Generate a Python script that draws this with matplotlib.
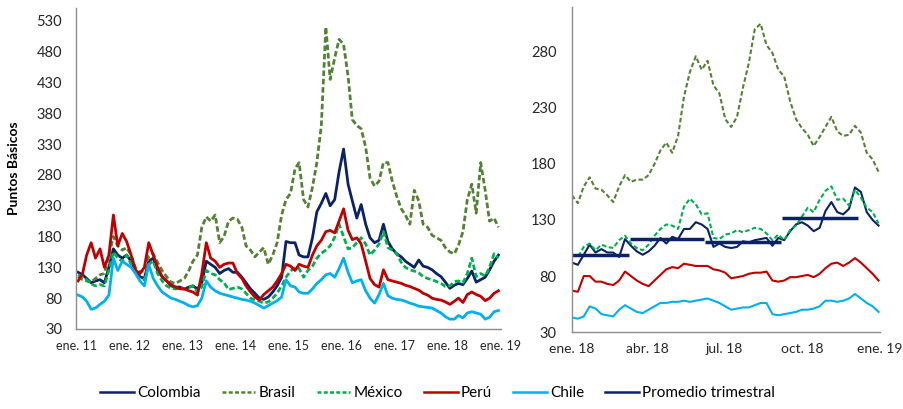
import matplotlib
matplotlib.use('Agg')
import matplotlib.pyplot as plt
from matplotlib.lines import Line2D
import pandas as pd

# Datos mensuales 2011-2018 (panel izquierdo), puntos basicos
meses = pd.date_range('2011-01-01', '2018-12-01', freq='MS') + pd.Timedelta(days=14)

colombia_m = [122, 118, 112, 105, 108, 110, 105, 130, 160, 150, 145, 150,
              140, 125, 115, 112, 140, 145, 125, 115, 108, 100, 98, 98,
              95, 98, 100, 95, 105, 140, 135, 130, 120, 125, 128, 122,
              122, 114, 105, 95, 88, 80, 78, 82, 90, 100, 114, 172,
              170, 170, 150, 147, 147, 178, 220, 234, 250, 230, 240, 285,
              322, 265, 238, 210, 232, 200, 178, 170, 174, 200, 172, 160,
              152, 147, 140, 135, 130, 142, 132, 130, 126, 120, 115, 106,
              96, 101, 104, 102, 112, 124, 106, 110, 114, 126, 140, 150]
brasil_m = [115, 110, 108, 106, 112, 118, 120, 150, 180, 165, 158, 162,
            150, 128, 122, 125, 148, 152, 138, 125, 115, 106, 104, 108,
            112, 125, 140, 150, 195, 212, 205, 215, 170, 180, 205, 210,
            208, 195, 165, 158, 147, 155, 162, 135, 150, 170, 215, 240,
            250, 290, 300, 240, 228, 260, 300, 360, 520, 435, 470, 500,
            492, 440, 370, 360, 355, 325, 275, 262, 270, 300, 300, 270,
            245, 225, 215, 200, 255, 238, 200, 195, 182, 178, 174, 162,
            155, 152, 166, 188, 240, 265, 218, 300, 255, 205, 210, 195]
mexico_m = [118, 115, 110, 103, 100, 102, 100, 125, 155, 145, 140, 150,
            135, 120, 110, 110, 135, 140, 120, 108, 100, 96, 95, 96,
            95, 97, 100, 90, 98, 125, 120, 118, 110, 105, 94, 96,
            98, 95, 88, 80, 77, 75, 72, 74, 80, 88, 100, 114,
            124, 130, 128, 114, 125, 132, 145, 153, 158, 165, 179, 200,
            180, 160, 162, 170, 178, 168, 150, 158, 168, 188, 162, 158,
            152, 138, 130, 126, 124, 121, 115, 112, 110, 107, 104, 99,
            100, 107, 108, 105, 120, 145, 115, 120, 116, 130, 152, 145]
peru_m = [108, 120, 150, 170, 145, 160, 130, 150, 215, 165, 185, 172,
          150, 125, 120, 130, 170, 150, 130, 115, 108, 102, 98, 95,
          95, 92, 90, 85, 120, 170, 145, 140, 130, 135, 137, 137,
          120, 112, 100, 90, 82, 77, 86, 92, 98, 108, 120, 135,
          132, 125, 135, 132, 130, 150, 165, 174, 188, 190, 186, 205,
          225, 190, 175, 178, 168, 140, 112, 102, 98, 126, 110, 108,
          106, 104, 101, 99, 96, 93, 88, 85, 80, 78, 77, 74,
          70, 75, 80, 73, 86, 90, 86, 83, 76, 80, 88, 92]
chile_m = [85, 82, 75, 62, 64, 70, 75, 85, 145, 125, 140, 135,
           130, 120, 108, 100, 135, 112, 100, 90, 85, 80, 78, 75,
           72, 68, 66, 68, 80, 108, 98, 92, 88, 86, 84, 82,
           80, 78, 77, 75, 72, 68, 64, 68, 72, 76, 82, 110,
           100, 98, 90, 88, 88, 95, 104, 110, 118, 120, 114, 128,
           145, 122, 105, 108, 110, 92, 80, 72, 86, 104, 84, 80,
           78, 77, 75, 72, 70, 67, 66, 65, 64, 60, 56, 50,
           46, 46, 52, 48, 56, 58, 56, 54, 46, 49, 58, 60]

# Datos semanales 2018 (panel derecho)
semanas = pd.date_range('2018-01-01', periods=53, freq='7D')

colombia_w = [92, 90, 99, 108, 101, 104, 101, 101, 97, 113, 107, 102, 99, 102, 107, 114, 109, 115,
              113, 122, 122, 128, 126, 122, 106, 109, 106, 105, 106, 111, 110, 112, 113, 114, 107,
              114, 112, 120, 126, 128, 125, 120, 123, 138, 146, 137, 135, 140, 159, 155, 137, 130, 125]
brasil_w = [152, 145, 160, 168, 158, 157, 152, 146, 160, 170, 164, 166, 166, 170, 180, 192, 199, 190,
            205, 240, 262, 276, 264, 272, 250, 243, 220, 213, 222, 248, 270, 300, 305, 286, 279,
            264, 258, 236, 220, 212, 206, 196, 204, 213, 222, 209, 205, 206, 214, 208, 190, 184, 173]
mexico_w = [99, 97, 106, 109, 103, 108, 106, 105, 112, 116, 109, 105, 103, 108, 116, 122, 126, 125,
            122, 142, 149, 144, 135, 136, 114, 113, 117, 118, 121, 119, 121, 123, 122, 118, 112,
            117, 112, 121, 125, 133, 141, 137, 148, 156, 160, 148, 149, 143, 157, 150, 141, 137, 127]
peru_w = [67, 66, 80, 80, 75, 75, 73, 72, 76, 84, 80, 76, 73, 71, 76, 81, 86, 88,
          87, 91, 90, 89, 89, 89, 86, 85, 83, 78, 79, 80, 82, 83, 83, 84, 76,
          75, 76, 79, 79, 80, 81, 79, 82, 87, 91, 92, 89, 92, 96, 92, 87, 82, 76]
chile_w = [43, 42, 44, 53, 51, 46, 45, 44, 50, 54, 51, 48, 47, 50, 53, 56, 56, 57,
           57, 58, 57, 58, 59, 60, 58, 56, 53, 50, 51, 52, 52, 54, 56, 56, 46,
           45, 46, 47, 48, 50, 50, 51, 53, 58, 58, 57, 58, 60, 64, 60, 56, 53, 48]

# Promedio trimestral de Colombia
prom_ini = ['2018-01-01', '2018-03-11', '2018-06-08', '2018-09-07']
prom_fin = ['2018-03-10', '2018-06-07', '2018-09-06', '2018-12-07']
prom_val = [99, 113, 110, 132]

ticks_izq = ['2011-01-01', '2012-01-01', '2013-01-01', '2014-01-01', '2015-01-01',
             '2016-01-01', '2017-01-01', '2018-01-01', '2019-01-01']
etiq_izq = ['ene. 11', 'ene. 12', 'ene. 13', 'ene. 14', 'ene. 15',
            'ene. 16', 'ene. 17', 'ene. 18', 'ene. 19']
ticks_der = ['2018-01-01', '2018-04-01', '2018-07-01', '2018-10-01', '2019-01-01']
etiq_der = ['ene. 18', 'abr. 18', 'jul. 18', 'oct. 18', 'ene. 19']

c_col = '#0b2364'
c_bra = '#548235'
c_mex = '#00b050'
c_per = '#c00000'
c_chi = '#00b0f0'

plt.rcParams['font.family'] = ['Lato', 'DejaVu Sans']

fig = plt.figure(figsize=(9.04, 4.09), dpi=100)
ax1 = fig.add_axes([0.0841, 0.1956, 0.470, 0.785])
ax2 = fig.add_axes([0.6327, 0.188, 0.341, 0.795])

# Panel izquierdo
ax1.plot(meses, colombia_m, color=c_col, lw=2.0)
ax1.plot(meses, brasil_m, color=c_bra, lw=2.0, dashes=(2, 1))
ax1.plot(meses, mexico_m, color=c_mex, lw=2.0, dashes=(2, 1))
ax1.plot(meses, peru_m, color=c_per, lw=2.0)
ax1.plot(meses, chile_m, color=c_chi, lw=2.0)
ax1.set_ylim(30, 551)
ax1.set_yticks(range(30, 531, 50))
ax1.set_xlim(pd.Timestamp('2011-01-01'), pd.Timestamp('2019-01-01'))
ax1.set_xticks(pd.to_datetime(ticks_izq))
ax1.set_xticklabels(etiq_izq)
ax1.tick_params(axis='x', length=0, labelsize=9, pad=8, colors='#262626')
ax1.tick_params(axis='y', length=0, labelsize=10.5, pad=10, colors='#262626')
ax1.set_ylabel('Puntos Básicos', fontweight='bold', fontsize=10)
ax1.yaxis.set_label_coords(-0.132, 0.5)

# Panel derecho
ax2.plot(semanas, colombia_w, color=c_col, lw=1.5)
ax2.plot(semanas, brasil_w, color=c_bra, lw=1.5, dashes=(2.2, 1.2))
ax2.plot(semanas, mexico_w, color=c_mex, lw=1.5, dashes=(2.2, 1.2))
ax2.plot(semanas, peru_w, color=c_per, lw=1.5)
ax2.plot(semanas, chile_w, color=c_chi, lw=1.5)
for i in range(len(prom_val)):
    ax2.plot(pd.to_datetime([prom_ini[i], prom_fin[i]]), [prom_val[i], prom_val[i]],
             color=c_col, lw=2.5, solid_capstyle='butt')
ax2.set_ylim(30, 320)
ax2.set_yticks(range(30, 281, 50))
ax2.set_xlim(pd.Timestamp('2018-01-01'), pd.Timestamp('2019-01-02'))
ax2.set_xticks(pd.to_datetime(ticks_der))
ax2.set_xticklabels(etiq_der)
ax2.tick_params(axis='x', length=0, labelsize=10, pad=8, colors='#262626')
ax2.tick_params(axis='y', length=0, labelsize=10.5, pad=11, colors='#262626')

for ax in (ax1, ax2):
    for s in ('top', 'right'):
        ax.spines[s].set_visible(False)
    for s in ('left', 'bottom'):
        ax.spines[s].set_color('#8c8c8c')
        ax.spines[s].set_linewidth(1)

# Leyenda
handles = [Line2D([], [], color=c_col, lw=1.8),
           Line2D([], [], color=c_bra, lw=1.8, dashes=(1.6, 0.9)),
           Line2D([], [], color=c_mex, lw=1.8, dashes=(1.6, 0.9)),
           Line2D([], [], color=c_per, lw=1.8),
           Line2D([], [], color=c_chi, lw=1.8),
           Line2D([], [], color=c_col, lw=1.8)]
labels = ['Colombia', 'Brasil', 'México', 'Perú', 'Chile', 'Promedio trimestral']
fig.legend(handles, labels, loc='center', bbox_to_anchor=(0.484, 0.039), ncol=6,
           frameon=False, fontsize=11, handlelength=2.2, handletextpad=0.2,
           columnspacing=1.4)

fig.savefig('out.png', dpi=100)
